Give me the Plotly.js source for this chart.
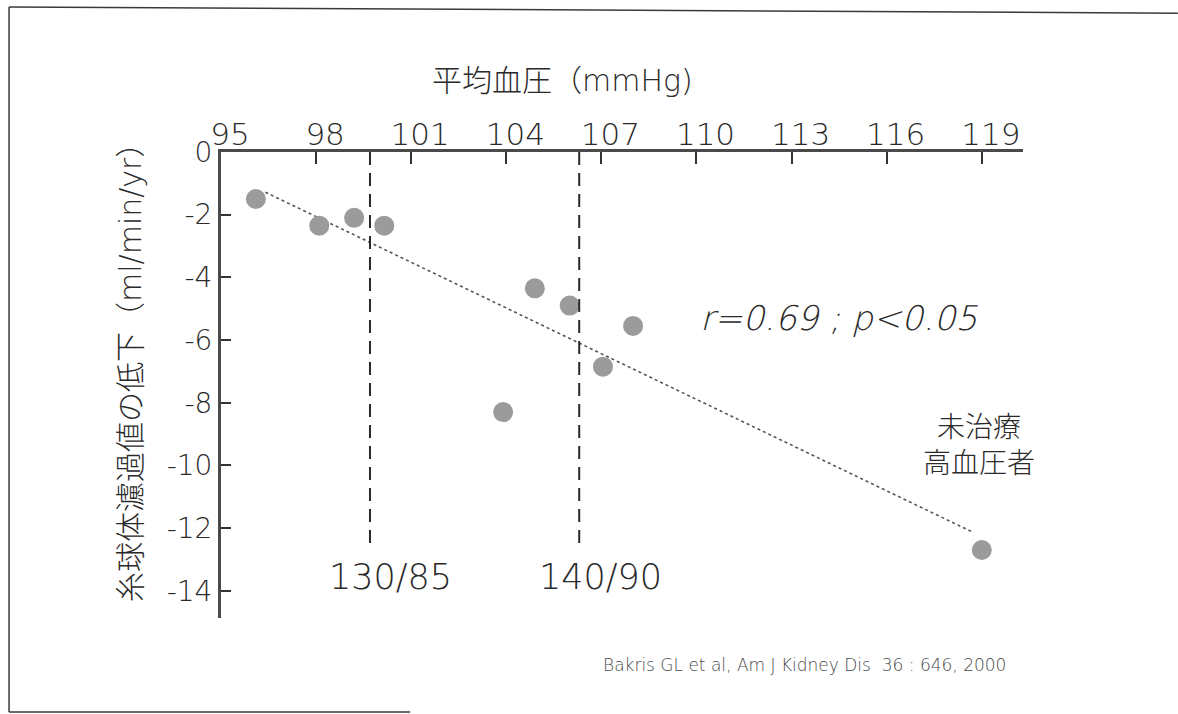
<!DOCTYPE html>
<html>
<head>
<meta charset="utf-8">
<script src="https://cdn.plot.ly/plotly-3.0.1.min.js"></script>
<style>
  html, body { margin: 0; padding: 0; background: #ffffff; }
  #chart { width: 1178px; height: 714px; }
</style>
</head>
<body>
<div id="chart"></div>
<script>
// Mean arterial pressure (mmHg) vs. yearly GFR decline (ml/min/yr)
const mapValues = [96.1, 98.1, 99.2, 100.15, 104.9, 106.0, 108.0, 107.05, 103.9, 119.0];
const gfrDecline = [-1.5, -2.35, -2.1, -2.35, -4.35, -4.9, -5.55, -6.85, -8.3, -12.7];

// Blood-pressure thresholds marked as dashed verticals
const thresholdMap = [99.7, 106.3];
const thresholdLabels = ['130/85', '140/90'];
const thresholdBottom = -12.5;

// Axis ticks
const xTicks = [95, 98, 101, 104, 107, 110, 113, 116, 119];
const yTicks = [0, -2, -4, -6, -8, -10, -12, -14];

// Extent of the fitted line along the x axis
const fitRange = [96.4, 118.75];

// Least-squares fit through the points
function linearFit(xs, ys) {
  const n = xs.length;
  const mx = xs.reduce((a, b) => a + b, 0) / n;
  const my = ys.reduce((a, b) => a + b, 0) / n;
  let sxy = 0, sxx = 0;
  for (let i = 0; i < n; i++) {
    sxy += (xs[i] - mx) * (ys[i] - my);
    sxx += (xs[i] - mx) * (xs[i] - mx);
  }
  const slope = sxy / sxx;
  return { slope: slope, intercept: my - slope * mx };
}
const fit = linearFit(mapValues, gfrDecline);
const fitY = fitRange.map(x => fit.intercept + fit.slope * x);

const FONT = '"DejaVu Sans", "Noto Sans CJK JP", sans-serif';
const LIGHT_ITALIC = '"DejaVu Sans ExtraLight", "DejaVu Sans Light", "DejaVu Sans", sans-serif';
const CJK = '"Noto Sans CJK JP", "DejaVu Sans", sans-serif';
const INK = '#2a2a2a';
const W = 200;

const traces = [
  {
    x: fitRange, y: fitY, type: 'scatter', mode: 'lines',
    line: { color: '#555555', width: 1.6, dash: 'dot' },
    hoverinfo: 'skip', showlegend: false
  },
  {
    x: mapValues, y: gfrDecline, type: 'scatter', mode: 'markers',
    marker: { size: 20, color: '#9b9b9b', line: { width: 0 } },
    showlegend: false
  }
];

const shapes = thresholdMap.map(v => ({
  type: 'line', xref: 'x', yref: 'y',
  x0: v, x1: v, y0: 0, y1: thresholdBottom,
  line: { color: INK, width: 2, dash: '13px,8px' }
}));

// Frame around the figure
const frameColor = '#3a3a3a';
shapes.push(
  { type: 'line', xref: 'paper', yref: 'paper', x0: -0.2643, x1: -0.2643, y0: 1.3112, y1: -0.2017,
    line: { color: frameColor, width: 1.5 } },
  { type: 'line', xref: 'paper', yref: 'paper', x0: -0.2643, x1: 1.193, y0: 1.3112, y1: 1.298,
    line: { color: frameColor, width: 1.5 } },
  { type: 'line', xref: 'paper', yref: 'paper', x0: -0.2643, x1: 0.236, y0: -0.2017, y1: -0.2017,
    line: { color: frameColor, width: 1.5 } }
);

const annotations = thresholdMap.map((v, i) => ({
  x: v, y: -13.55, xref: 'x', yref: 'y', xshift: 21,
  xanchor: 'center', yanchor: 'middle',
  text: thresholdLabels[i], showarrow: false,
  font: { family: FONT, size: 35, color: INK, weight: W }
}));

annotations.push(
  {
    xref: 'paper', yref: 'paper', x: 0.4264, y: 1.1545,
    xanchor: 'center', yanchor: 'middle',
    text: '平均血圧（mmHg)', showarrow: false,
    font: { family: FONT, size: 30, color: INK, weight: W }
  },
  {
    xref: 'paper', yref: 'paper', x: -0.1122, y: 0.543, textangle: -90,
    xanchor: 'center', yanchor: 'middle',
    text: '糸球体濾過値の低下（ml/min/yr）', showarrow: false,
    font: { family: FONT, size: 30, color: INK, weight: W }
  },
  {
    xref: 'x', yref: 'y', x: 114.5, y: -5.3,
    xanchor: 'center', yanchor: 'middle',
    text: 'r=0.69 ; p&lt;0.05', showarrow: false,
    font: { family: LIGHT_ITALIC, size: 34, color: INK, weight: W, style: 'italic' }
  },
  {
    xref: 'x', yref: 'y', x: 118.9, y: -9.27,
    xanchor: 'center', yanchor: 'middle',
    text: '未治療<br>高血圧者', showarrow: false,
    font: { family: CJK, size: 28, color: INK, weight: 300 }
  },
  {
    xref: 'paper', yref: 'paper', x: 0.727, y: -0.101,
    xanchor: 'center', yanchor: 'middle',
    text: 'Bakris GL et al, Am J Kidney Dis  36 : 646, 2000', showarrow: false,
    font: { family: FONT, size: 17, color: '#4a4a4a', weight: W }
  }
);

const layout = {
  width: 1178, height: 714,
  margin: { l: 221, r: 155, t: 152, b: 96 },
  paper_bgcolor: '#ffffff', plot_bgcolor: '#ffffff',
  font: { family: FONT, color: INK },
  xaxis: {
    side: 'top', range: [95, 120.3],
    tickvals: xTicks, ticktext: xTicks.map(String),
    ticks: 'inside', ticklen: 12, tickwidth: 2, tickcolor: '#333333',
    ticklabelshift: 9, ticklabelstandoff: -8,
    showline: true, linecolor: '#4a4a4a', linewidth: 3,
    showgrid: false, zeroline: false,
    tickfont: { family: FONT, size: 31, color: INK, weight: W }
  },
  yaxis: {
    range: [-14.87, 0],
    tickvals: yTicks, ticktext: yTicks.map(String),
    ticks: 'inside', ticklen: 10, tickwidth: 2, tickcolor: '#333333',
    showline: true, linecolor: '#4a4a4a', linewidth: 3,
    showgrid: false, zeroline: false,
    tickfont: { family: FONT, size: 28, color: INK, weight: W }
  },
  shapes: shapes,
  annotations: annotations,
  showlegend: false
};

Plotly.newPlot('chart', traces, layout, { displayModeBar: false, staticPlot: true });
</script>
</body>
</html>
